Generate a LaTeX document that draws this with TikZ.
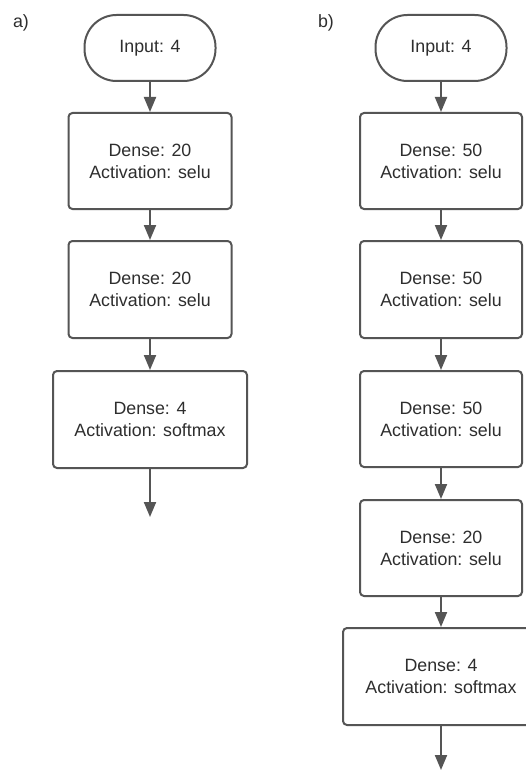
\documentclass[tikz,border=0pt]{standalone}
\usepackage{fontspec}
\setmainfont{Liberation Sans}
\usetikzlibrary{arrows.meta}
\definecolor{linegray}{HTML}{555555}
\definecolor{textgray}{HTML}{2E2E2E}
\tikzset{
  box/.style={draw=linegray, line width=2pt, rounded corners=4pt, fill=white,
    align=center, text=textgray, font=\fontsize{17.8}{22}\selectfont, inner sep=0pt},
  term/.style={draw=linegray, line width=2pt, rounded corners=32pt, fill=white,
    align=center, text=textgray, font=\fontsize{17.8}{22}\selectfont, inner sep=0pt,
    minimum width=131pt, minimum height=66pt},
  conn/.style={draw=linegray, line width=2pt, -{Triangle[length=15pt,width=12pt]}},
  lbl/.style={text=textgray, font=\fontsize{17.8}{22}\selectfont}
}
\begin{document}
\begin{tikzpicture}[x=1pt,y=-1pt]
\useasboundingbox[fill=white] (0,0) rectangle (526,770);
% labels
\node[lbl] (la) at (21,23) {a)};
\node[lbl] (lb) at (326,23) {b)};
% column a
\node[term] (ina) at (150,48) {Input: 4};
\node[box, minimum width=163pt, minimum height=96pt] (a1) at (150,161) {Dense: 20\\Activation: selu};
\node[box, minimum width=163pt, minimum height=97pt] (a2) at (150,289.5) {Dense: 20\\Activation: selu};
\node[box, minimum width=194pt, minimum height=97pt] (a3) at (150,419.5) {Dense: 4\\Activation: softmax};
\coordinate (aend) at (150,517);
\draw[conn] (ina) -- (a1);
\draw[conn] (a1) -- (a2);
\draw[conn] (a2) -- (a3);
\draw[conn] (a3) -- (aend);
% column b
\node[term] (inb) at (441,48) {Input: 4};
\node[box, minimum width=162pt, minimum height=96pt] (b1) at (441,161) {Dense: 50\\Activation: selu};
\node[box, minimum width=162pt, minimum height=97pt] (b2) at (441,289.5) {Dense: 50\\Activation: selu};
\node[box, minimum width=162pt, minimum height=96pt] (b3) at (441,419) {Dense: 50\\Activation: selu};
\node[box, minimum width=162pt, minimum height=96pt] (b4) at (441,548) {Dense: 20\\Activation: selu};
\node[box, minimum width=196pt, minimum height=97pt] (b5) at (441,676.5) {Dense: 4\\Activation: softmax};
\coordinate (bend) at (441,770);
\draw[conn] (inb) -- (b1);
\draw[conn] (b1) -- (b2);
\draw[conn] (b2) -- (b3);
\draw[conn] (b3) -- (b4);
\draw[conn] (b4) -- (b5);
\draw[conn] (b5) -- (bend);
\end{tikzpicture}
\end{document}
